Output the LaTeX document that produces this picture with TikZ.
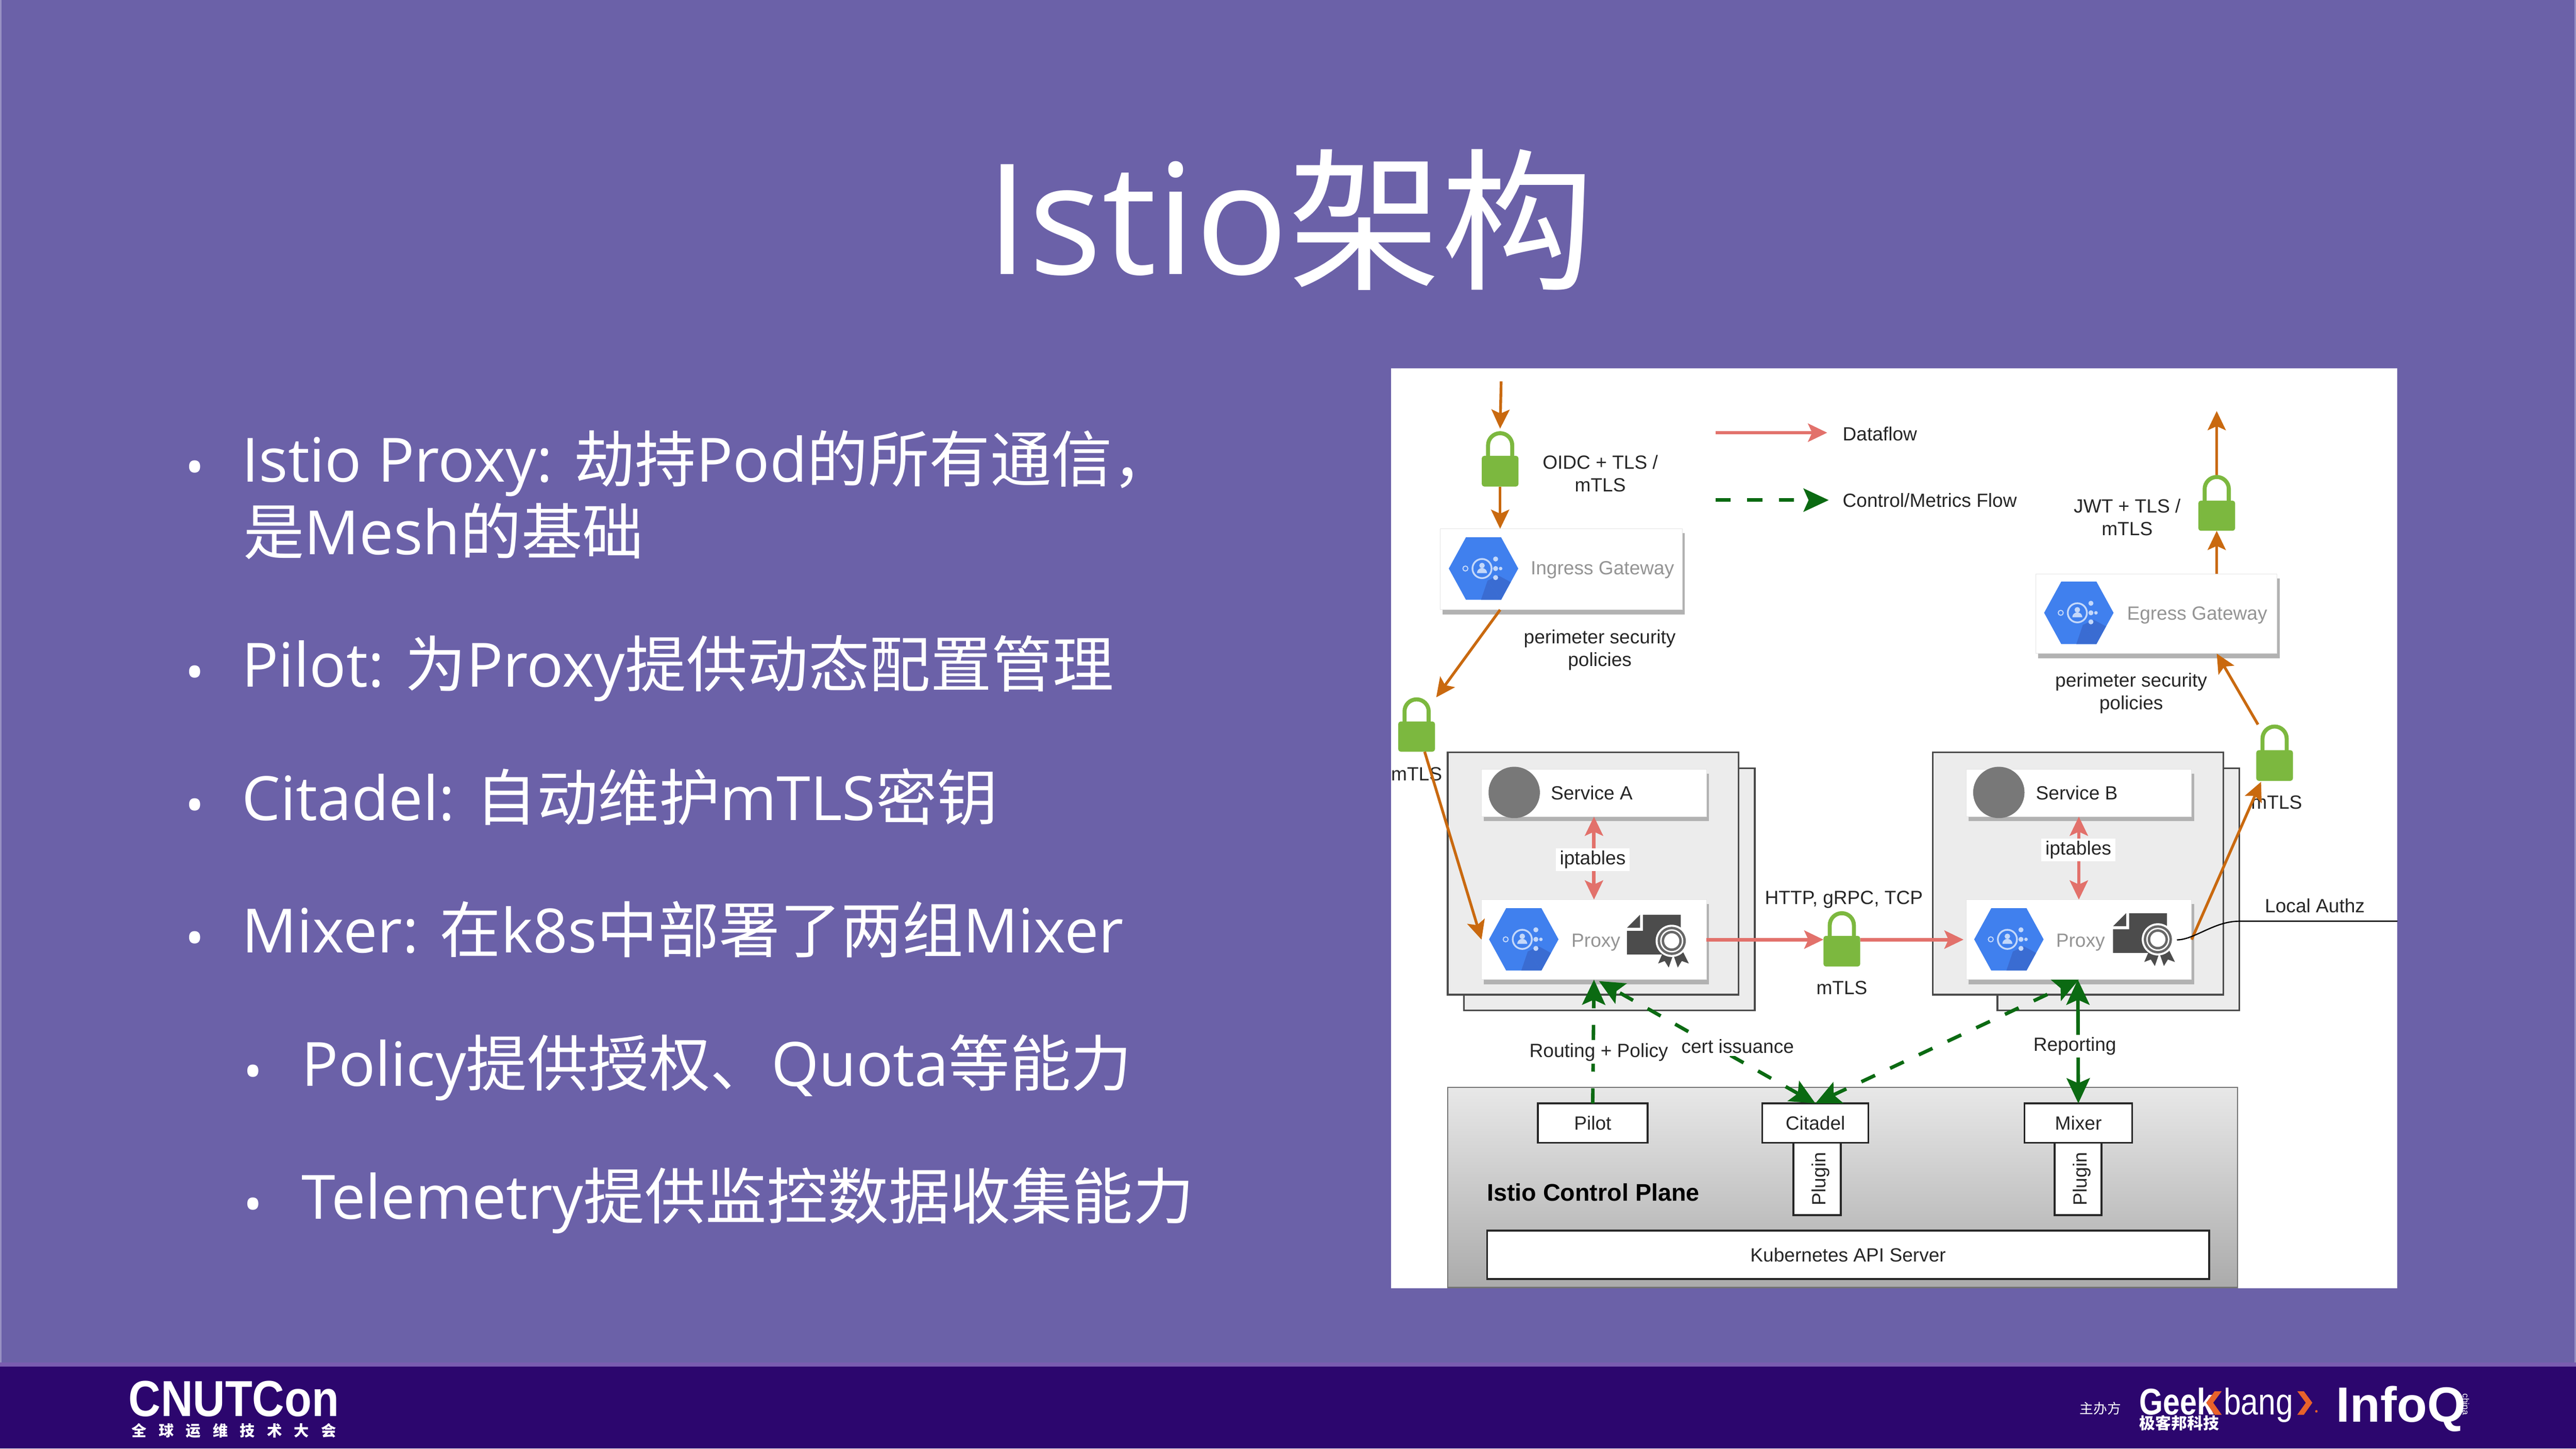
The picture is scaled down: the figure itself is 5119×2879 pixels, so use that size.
\documentclass[tikz,border=0pt]{standalone}
\usepackage{fontspec}
\usepackage{graphicx}
\usetikzlibrary{arrows.meta}
\setmainfont{Open Sans}
\newfontfamily\cjk{Noto Sans CJK SC}
\newfontfamily\arial{Liberation Sans}
\newcommand\Z[1]{{\cjk #1}}
\definecolor{slidebg}{HTML}{6B61A8}
\definecolor{footbg}{HTML}{2C066E}
\definecolor{footedge}{HTML}{7A5CB0}
\definecolor{orangeflow}{HTML}{C9690F}
\definecolor{redflow}{HTML}{E2716B}
\definecolor{greenflow}{HTML}{0B6A12}
\definecolor{lockgreen}{HTML}{7CB83F}
\definecolor{hexblue}{HTML}{4080EE}
\definecolor{hexdark}{HTML}{3A6CD2}
\definecolor{hexline}{HTML}{C4D8FA}
\definecolor{podfill}{HTML}{ECECEC}
\definecolor{podline}{HTML}{4A4A4A}
\definecolor{shadowc}{HTML}{B2B2B2}
\definecolor{certc}{HTML}{4C4C4C}
\definecolor{chev}{HTML}{E8622A}
\tikzset{
  x=0.01cm,y=-0.01cm,
  slidetitle/.style={text=white,anchor=base west,inner sep=0,font=\fontsize{87}{92}\selectfont},
  bullettext/.style={text=white,anchor=base west,inner sep=0,font=\fontsize{34.5}{40}\selectfont},
  bulletdot/.style={text=white,anchor=center,inner sep=0,font=\fontsize{29}{29}\selectfont},
  lbl/.style={text=black!85,inner sep=0,align=center,yshift=-.03cm,font=\arial\fontsize{10.8}{12.8}\selectfont},
  lblw/.style={lbl,fill=white,inner xsep=.08cm,inner ysep=.05cm},
  graytxt/.style={lbl,text=black!42},
  cardbox/.style={fill=white,draw=black!10,line width=.01cm},
  podbox/.style={fill=podfill,draw=podline,line width=.035cm},
  whitebox/.style={fill=white,draw=black!85,line width=.035cm,text=black!85,font=\arial\fontsize{10.8}{12.8}\selectfont},
  plane/.style={top color=black!9,bottom color=black!33,draw=black!55,line width=.025cm},
  lockbody/.style={fill=lockgreen,rounded corners=.05cm},
  orangearrow/.style={draw=orangeflow,line width=.055cm,-{Stealth[length=.38cm,width=.36cm,inset=.08cm]}},
  redarrow/.style={draw=redflow,line width=.07cm,-{Stealth[length=.38cm,width=.36cm,inset=.08cm]}},
  reddouble/.style={draw=redflow,line width=.07cm,{Stealth[length=.38cm,width=.36cm,inset=.08cm]}-{Stealth[length=.38cm,width=.36cm,inset=.08cm]}},
  greenarrow/.style={draw=greenflow,line width=.07cm,-{Stealth[length=.5cm,width=.46cm,inset=.1cm]}},
  greendouble/.style={draw=greenflow,line width=.07cm,{Stealth[length=.5cm,width=.46cm,inset=.1cm]}-{Stealth[length=.5cm,width=.46cm,inset=.1cm]}},
  greenflowdash/.style={dash pattern=on .3cm off .33cm},
  logotxt/.style={text=white,inner sep=0,anchor=base west}
}
% [text]{style}{name}{x1}{y1}{x2}{y2}
\newcommand\bx[7][]{%
  \pgfmathsetmacro\bw{((#6)-(#4))*0.01}\pgfmathsetmacro\bh{((#7)-(#5))*0.01}%
  \node[#2,minimum width=\bw cm,minimum height=\bh cm,inner sep=0,outer sep=0] (#3) at ({((#4)+(#6))/2},{((#5)+(#7))/2}) {#1};}
\newcommand\card[5]{%
  \fill[shadowc] ({#2+5},{#3+9}) rectangle ({#4+5},{#5+9});
  \bx{cardbox}{#1}{#2}{#3}{#4}{#5}}
% name cx shackletop bodytop bodybottom
\newcommand\lockicon[5]{%
  \draw[lockgreen,line width=.08cm] ({#2-24},#4+2) -- ({#2-24},{#3+28}) arc[start angle=180,end angle=0,radius=.24cm] -- ({#2+24},#4+2);
  \bx{lockbody}{#1}{#2-36.5}{#4}{#2+36.5}{#5}
  \coordinate (#1t) at (#2,#3);}
\newcommand\hexicon[2]{%
  \begin{scope}[shift={(#1,#2)}]
    \fill[hexblue] (-69,0) -- (-35,-62) -- (35,-62) -- (69,0) -- (35,62) -- (-35,62) -- cycle;
    \fill[hexdark] (8,24) -- (35,62) -- (-5,62) -- cycle;
    \fill[hexdark] (8,24) -- (30,14) -- (54,27) -- (35,62) -- cycle;
    \draw[hexline,line width=.035cm] (-3,0) circle[radius=.19cm];
    \fill[hexline] (-3,-6) circle[radius=.055cm];
    \fill[hexline] (-13,9) arc[start angle=180,end angle=0,radius=.10cm] -- cycle;
    \draw[hexline,line width=.02cm] (-36,0) circle[radius=.05cm];
    \fill[hexline] (24,-19) circle[radius=.05cm] (24,0) circle[radius=.05cm] (24,18) circle[radius=.05cm] (34,0) circle[radius=.035cm];
  \end{scope}}
\newcommand\certicon[2]{%
  \begin{scope}[shift={(#1,#2)}]
    \fill[certc] (-57,-52) -- (18,-52) -- (18,27) -- (-89,27) -- (-89,-20) -- (-57,-20) -- cycle;
    \fill[certc] (-89,-26) -- (-63,-52) -- (-63,-26) -- cycle;
    \fill[certc] (-14,15) -- (-27,45) -- (-14,40) -- (-6,53) -- (3,27) -- (12,53) -- (20,40) -- (34,45) -- (19,15) -- cycle;
    \fill[white] (0,0) circle[radius=.32cm];
    \fill[certc!85] (0,0) circle[radius=.28cm];
    \fill[white] (0,0) circle[radius=.23cm];
    \fill[certc!85] (0,0) circle[radius=.20cm];
    \fill[white] (0,0) circle[radius=.15cm];
  \end{scope}}
\newcommand\plug{\rotatebox{90}{\raisebox{-2pt}[\height][\depth]{Plugin}}}
\begin{document}
\begin{tikzpicture}
\useasboundingbox (0,0) rectangle (5119,2879);
% slide
\fill[slidebg] (0,0) rectangle (5119,2879);
\fill[slidebg!70!white] (0,0) rectangle (3,2716);
\fill[slidebg!70!white] (5116,0) rectangle (5119,2716);
\fill[footedge] (0,2708) rectangle (5119,2716);
\fill[footbg] (0,2716) rectangle (5119,2879);
% title and bullets
\node[slidetitle] (title) at (1958,545) {Istio{\cjk\fontsize{86.5}{92}\selectfont\raisebox{-2pt}{架构}}};
\node[bullettext] (b1a) at (480,958) {Istio Proxy: \Z{劫持}Pod\Z{的所有通信，}};
\node[bullettext] (b1b) at (483,1102) {\Z{是}Mesh\Z{的基础}};
\node[bullettext] (b2) at (480,1365) {Pilot: \Z{为}Proxy\Z{提供动态配置管理}};
\node[bullettext] (b3) at (480,1630) {Citadel: \Z{自动维护}mTLS\Z{密钥}};
\node[bullettext] (b4) at (480,1894) {Mixer: \Z{在}k8s\Z{中部署了两组}Mixer};
\node[bullettext] (b5) at (599,2159) {Policy\Z{提供授权、}Quota\Z{等能力}};
\node[bullettext] (b6) at (599,2423) {Telemetry\Z{提供监控数据收集能力}};
\node[bulletdot] (d1) at (387,940) {•};
\node[bulletdot] (d2) at (387,1348) {•};
\node[bulletdot] (d3) at (387,1612) {•};
\node[bulletdot] (d4) at (387,1876) {•};
\node[bulletdot] (d5) at (503,2141) {•};
\node[bulletdot] (d6) at (503,2405) {•};
% figure panel
\fill[white] (2764,732) rectangle (4764,2560);
% pods
\bx{podbox}{podAback}{2909}{1527}{3487}{2008}
\bx{podbox}{podA}{2877}{1495}{3455}{1977}
\bx{podbox}{podBback}{3969}{1527}{4450}{2008}
\bx{podbox}{podB}{3841}{1495}{4418}{1977}
% control plane
\bx{plane}{cplane}{2877}{2161}{4446}{2559}
\bx[Pilot]{whitebox}{pilot}{3056}{2193}{3274}{2271}
\bx[Citadel]{whitebox}{citadel}{3502}{2193}{3713}{2271}
\bx[Mixer]{whitebox}{mixer}{4023}{2193}{4237}{2271}
\bx[\plug]{whitebox}{plugA}{3564}{2271}{3658}{2415}
\bx[\plug]{whitebox}{plugB}{4083}{2271}{4176}{2415}
\bx[Kubernetes API Server]{whitebox}{k8s}{2955}{2446}{4390}{2542}
\node[lbl,anchor=west,font=\arial\bfseries\fontsize{13.6}{16}\selectfont,text=black] (cpl) at (2954,2367) {Istio Control Plane};
% gateway and service cards
\card{ingress}{2862}{1051}{3343}{1212}
\hexicon{2948}{1130}
\node[graytxt,anchor=west] (ingt) at (3041,1130) {Ingress Gateway};
\card{egress}{4045}{1141}{4525}{1299}
\hexicon{4131}{1218}
\node[graytxt,anchor=west] (egt) at (4226,1220) {Egress Gateway};
\card{svcA}{2944}{1529}{3391}{1623}
\fill[black!53] (3009,1575) ellipse[x radius=.51cm,y radius=.51cm];
\node[lbl,anchor=west] (svcAt) at (3081,1573) {Service A};
\card{svcB}{3907}{1529}{4355}{1623}
\fill[black!53] (3972,1575) ellipse[x radius=.51cm,y radius=.51cm];
\node[lbl,anchor=west] (svcBt) at (4045,1573) {Service B};
\card{proxyA}{2944}{1788}{3391}{1947}
\hexicon{3028}{1867}
\node[graytxt,anchor=west] (pAt) at (3122,1870) {Proxy};
\certicon{3322}{1870}
\card{proxyB}{3907}{1788}{4355}{1947}
\hexicon{3992}{1867}
\node[graytxt,anchor=west] (pBt) at (4085,1870) {Proxy};
\certicon{4288}{1867}
% locks
\lockicon{lockA}{2981}{857}{906}{967}
\lockicon{lockB}{4405}{944}{995}{1055}
\lockicon{lockC}{2815}{1386}{1434}{1494}
\lockicon{lockD}{4520}{1440}{1491}{1552}
\lockicon{lockM}{3660}{1811}{1860}{1921}
% texts beneath connectors
\node[lbl] (oidc) at (3180,938) {OIDC + TLS /\\mTLS};
\node[lbl] (jwt) at (4227,1025) {JWT + TLS /\\mTLS};
\node[lbl] (perA) at (3179,1289) {perimeter security\\policies};
\node[lbl] (perB) at (4235,1375) {perimeter security\\policies};
\node[lbl] (mtlsL) at (2815,1535) {mTLS};
\node[lbl] (mtlsM) at (3660,1960) {mTLS};
\node[lbl] (mtlsR) at (4524,1592) {mTLS};
\node[lbl] (http) at (3664,1785) {HTTP, gRPC, TCP};
\node[lbl,anchor=west] (dfl) at (3661,859) {Dataflow};
\node[lbl,anchor=west] (cfl) at (3661,991) {Control/Metrics Flow};
\node[lbl] (authz) at (4600,1797) {Local Authz};
% free ends
\coordinate (inTop) at (2983,758);
\coordinate (outTop) at (4405,817);
\coordinate (legAa) at (3409,860);
\coordinate (legAb) at (3631,860);
\coordinate (legBa) at (3409,994);
\coordinate (legBb) at (3634,994);
\coordinate (authzA) at (4326,1868);
\coordinate (authzB) at (4449,1831);
\coordinate (authzC) at (4764,1831);
% legend
\draw[redarrow] (legAa) -- (legAb);
\draw[greenarrow,greenflowdash] (legBa) -- (legBb);
% orange flow
\draw[orangearrow] (inTop) -- ([yshift=.05cm]lockAt);
\draw[orangearrow] (lockA.south) -- (ingress.north -| lockA);
\draw[orangearrow] (ingress.south -| lockA) -- ([xshift=.39cm]lockCt);
\draw[orangearrow] ([xshift=.16cm]lockC.south) -- (proxyA.west);
\draw[orangearrow] (proxyB.east) -- ([xshift=-.27cm,yshift=-.02cm]lockD.south);
\draw[orangearrow] ([xshift=-.33cm]lockDt) -- (egress.south -| lockB);
\draw[orangearrow] (egress.north -| lockB) -- (lockB.south);
\draw[orangearrow] (lockBt) -- (outTop);
% local authz
\draw[black,line width=.025cm] (authzA) .. controls (4360,1868) and (4400,1831) .. (authzB) -- (authzC);
% red flow
\draw[redarrow] (proxyA.east) -- (proxyA.east -| lockM.west);
\draw[redarrow] (proxyA.east -| lockM.east) -- ([xshift=-.05cm]proxyB.west);
\draw[reddouble] (svcA.south) -- (proxyA.north);
\draw[reddouble] (svcB.south) -- (proxyB.north);
% green flow
\draw[greenarrow,greenflowdash] (pilot.north) -- (proxyA.south);
\draw[greendouble,greenflowdash] (citadel.north) -- ([xshift=.1cm,yshift=-.03cm]proxyA.south);
\draw[greendouble,greenflowdash] (citadel.north) -- (proxyB.south);
\draw[greendouble] (mixer.north) -- ([xshift=-.02cm]proxyB.south);
% labels that break connectors
\node[lblw] (ipA) at (3165,1706) {iptables};
\node[lblw] (ipB) at (4130,1686) {iptables};
\node[lblw] (route) at (3177,2088) {Routing + Policy};
\node[lblw] (cert) at (3453,2077) {cert issuance};
\node[lblw] (report) at (4123,2076) {Reporting};
% footer logos
\node[logotxt] (cnut) at (255,2815) {\arial\bfseries\fontsize{28.6}{30}\selectfont\scalebox{.88}[1]{CNUTCon}};
\node[logotxt] (cnutz) at (261,2855) {\cjk\bfseries\fontsize{8.5}{9}\selectfont 全\kern6.8pt 球\kern6.8pt 运\kern6.8pt 维\kern6.8pt 技\kern6.8pt 术\kern6.8pt 大\kern6.8pt 会};
\node[logotxt] (host) at (4132,2810) {\cjk\fontsize{7.8}{8}\selectfont 主办方};
\node[logotxt] (geek) at (4251,2812) {\arial\bfseries\fontsize{21}{22}\selectfont\scalebox{.82}[1]{Geek}};
\node[logotxt] (bang) at (4418,2812) {\arial\fontsize{21}{22}\selectfont\scalebox{.84}[1]{bang}};
\fill[chev] (4401,2765) -- (4415,2765) -- (4398,2788) -- (4415,2812) -- (4401,2812) -- (4384,2788) -- cycle;
\fill[chev] (4565,2765) -- (4578,2765) -- (4595,2788) -- (4578,2812) -- (4565,2812) -- (4582,2788) -- cycle;
\fill[chev] (4603,2805) circle[radius=.025cm];
\node[logotxt] (geekz) at (4251,2841) {\cjk\bfseries\fontsize{9}{10}\selectfont 极客邦科技};
\node[logotxt] (infoq) at (4642,2826) {\arial\bfseries\fontsize{28}{30}\selectfont InfoQ};
\node[text=white,inner sep=0,rotate=-90,font=\arial\fontsize{5}{6}\selectfont] (china) at (4900,2791) {china};
\end{tikzpicture}
\end{document}
